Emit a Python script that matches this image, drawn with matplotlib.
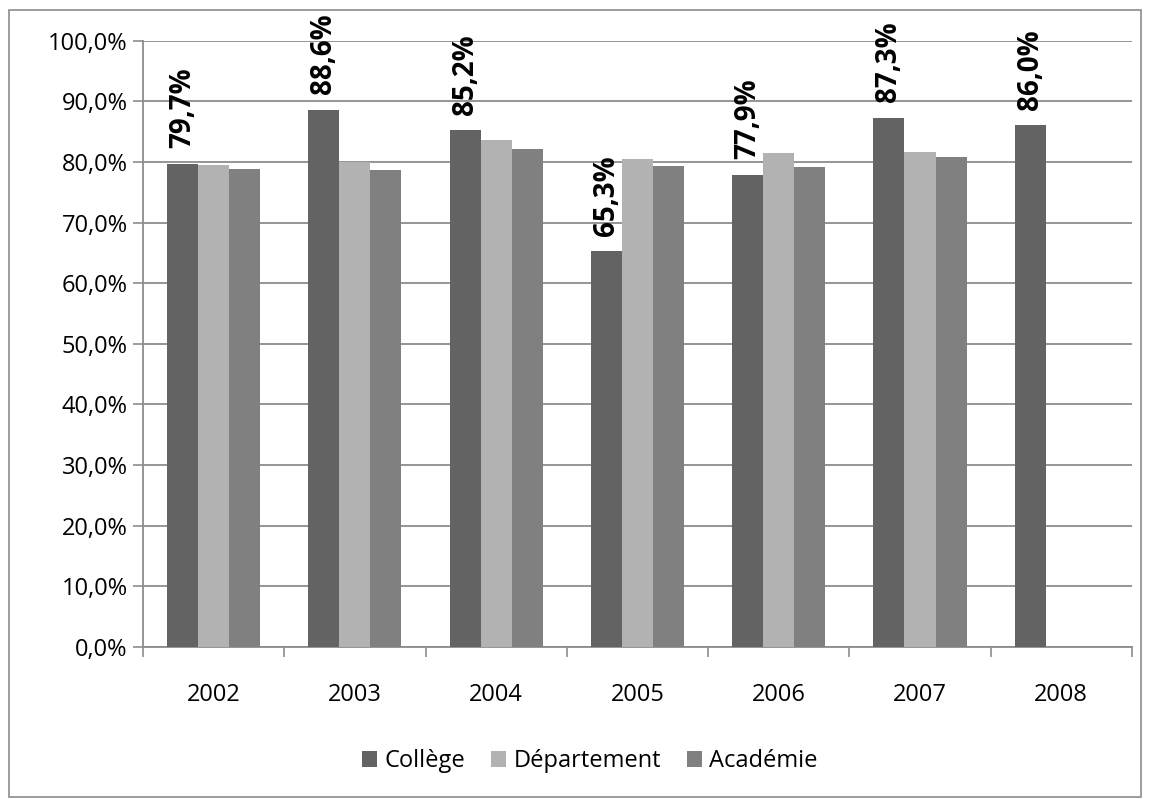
import matplotlib.pyplot as plt
import numpy as np

years = ["2002", "2003", "2004", "2005", "2006", "2007", "2008"]
college = [79.7, 88.6, 85.2, 65.3, 77.9, 87.3, 86.0]
departement = [79.5, 80.0, 83.6, 80.5, 81.5, 81.6, np.nan]
academie = [78.8, 78.7, 82.1, 79.3, 79.2, 80.8, np.nan]
series_names = ["Collège", "Département", "Académie"]
colors = ["#636363", "#b2b2b2", "#808080"]

plt.rcParams['font.family'] = ['Open Sans', 'DejaVu Sans']

fig = plt.figure(figsize=(11.5, 7.99), dpi=100)
ax = fig.add_axes([0.1243, 0.1902, 0.86, 0.759])

# outer chart border
fig.patches.append(plt.Rectangle((0.008, 0.002), 0.984, 0.985, transform=fig.transFigure,
                                 fill=False, edgecolor="#8c8c8c", linewidth=1.2))

x = np.arange(len(years))
w = 0.22
allseries = [college, departement, academie]
for i, (vals, name, col) in enumerate(zip(allseries, series_names, colors)):
    ax.bar(x + (i - 1) * w, vals, width=w, color=col, label=name, zorder=3)

for xi, v in zip(x - w, college):
    ax.annotate(("%.1f%%" % v).replace(".", ","), (xi, v), xytext=(0, 11),
                textcoords="offset points", rotation=90, ha="center", va="bottom",
                fontsize=20, fontweight="bold", color="black")

ax.set_xlim(-0.5, len(years) - 0.5)
ax.set_ylim(0, 100)
ax.set_yticks(np.arange(0, 101, 10))
ax.set_yticklabels([("%.1f%%" % t).replace(".", ",") for t in np.arange(0, 101, 10)])
ax.set_xticks(x)
ax.set_xticklabels(years)
ax.set_xticks(np.arange(-0.5, len(years), 1), minor=True)
ax.tick_params(axis="x", which="major", length=0, pad=26, labelsize=17)
ax.tick_params(axis="x", which="minor", length=7, color="#8c8c8c", width=1.2)
ax.tick_params(axis="y", length=7, color="#8c8c8c", width=1.2, labelsize=17, pad=4)
ax.yaxis.grid(True, color="#8c8c8c", linewidth=1.3, zorder=0)
ax.set_axisbelow(True)
for s in ["top", "right"]:
    ax.spines[s].set_visible(False)
for s in ["left", "bottom"]:
    ax.spines[s].set_color("#8c8c8c")
    ax.spines[s].set_linewidth(1.3)

fig.legend(loc="center", bbox_to_anchor=(0.513, 0.047), ncol=3, frameon=False,
           fontsize=17, handlelength=0.65, handleheight=0.65, handletextpad=0.3,
           columnspacing=1.1)

plt.savefig("out.png")
